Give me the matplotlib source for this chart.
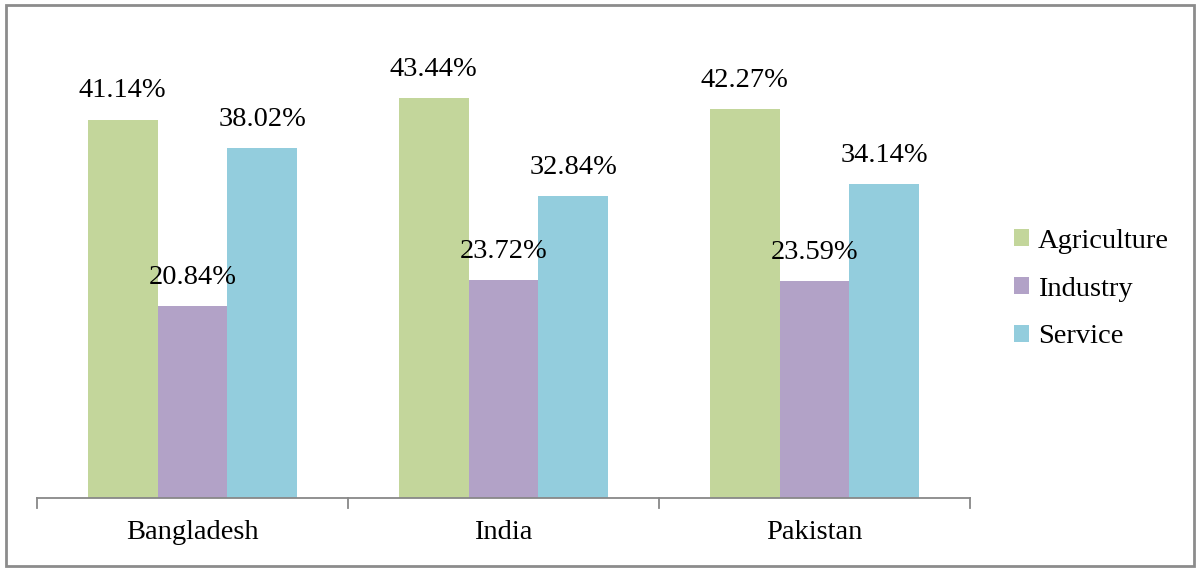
import matplotlib
matplotlib.use("Agg")
import matplotlib.pyplot as plt
import numpy as np
from matplotlib.patches import Rectangle

# data
countries = ['Bangladesh', 'India', 'Pakistan']
sectors = ['Agriculture', 'Industry', 'Service']
agriculture = [41.14, 43.44, 42.27]
industry = [20.84, 23.72, 23.59]
service = [38.02, 32.84, 34.14]
colors = ['#C3D69B', '#B2A2C7', '#93CDDD']

plt.rcParams['font.family'] = ['Liberation Serif', 'DejaVu Serif']

fig = plt.figure(figsize=(12, 5.72), dpi=100)
ax = fig.add_axes([37 / 1200, 74 / 572, 933 / 1200, 460 / 572])

x = np.arange(len(countries))
w = 0.225
series = [agriculture, industry, service]
for i, (vals, name, col) in enumerate(zip(series, sectors, colors)):
    pos = x + (i - 1) * w
    ax.bar(pos, vals, width=w, color=col, label=name, zorder=2)
    for p, v in zip(pos, vals):
        ax.text(p, v + 3.1, '%.2f%%' % v, ha='center', va='center', fontsize=20.5)

ax.set_xlim(-0.5, 2.5)
ax.set_ylim(0, 50)
for s in ['top', 'right', 'left']:
    ax.spines[s].set_visible(False)
ax.spines['bottom'].set_color('#888888')
ax.spines['bottom'].set_linewidth(1.3)
ax.set_yticks([])
ax.set_xticks([])
# tick marks between categories
for t in [-0.5, 0.5, 1.5, 2.5]:
    ax.plot([t, t], [0, -1.1], color='#888888', lw=1.3, clip_on=False)
for xi, c in zip(x, countries):
    ax.text(xi, -3.7, c, ha='center', va='center', fontsize=20.5)

leg = fig.legend(loc='center left', bbox_to_anchor=(988 / 1200, (572 - 289) / 572),
                 frameon=False, fontsize=20.5, handlelength=0.55, handleheight=0.55,
                 handletextpad=0.3, labelspacing=0.8)

fig.patches.append(Rectangle((6 / 1200, 6 / 572), 1188 / 1200, 561 / 572,
                             transform=fig.transFigure, fill=False,
                             edgecolor='#8c8c8c', lw=2))

fig.savefig('out.png', dpi=100)
